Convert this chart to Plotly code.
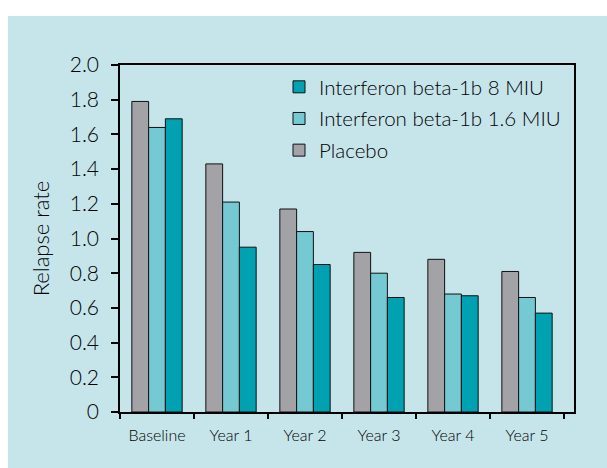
import plotly.graph_objects as go

# Relapse rates by study period
periods = ["Baseline", "Year 1", "Year 2", "Year 3", "Year 4", "Year 5"]
placebo = [1.79, 1.43, 1.17, 0.92, 0.88, 0.81]
ifn_1_6 = [1.64, 1.21, 1.04, 0.80, 0.68, 0.66]
ifn_8 = [1.69, 0.95, 0.85, 0.66, 0.67, 0.57]
y_ticks = [0, 0.2, 0.4, 0.6, 0.8, 1.0, 1.2, 1.4, 1.6, 1.8, 2.0]
y_tick_text = ["0", "0.2", "0.4", "0.6", "0.8", "1.0", "1.2", "1.4", "1.6", "1.8", "2.0"]

W, H = 607, 468
ML, MR, MT, MB = 120, 33, 65, 56
PW, PH = W - ML - MR, H - MT - MB

BG = "#c6e5ea"
FONT = "Lato"
WEIGHT = 300
TEXT = "#000000"

# (legend name, values, colour, legend rank)
series = [
    ("Placebo", placebo, "#a2a2a7", 3),
    ("Interferon beta-1b 1.6 MIU", ifn_1_6, "#74c9d3", 2),
    ("Interferon beta-1b 8 MIU", ifn_8, "#00a2b1", 1),
]

fig = go.Figure()
for name, vals, col, rank in series:
    fig.add_trace(go.Bar(
        x=periods, y=vals, name=name, legendgroup=name, legendrank=rank,
        marker=dict(color=col, line=dict(color="#111111", width=1)),
    ))


def px_to_paper_x(px):
    return (px - ML) / PW


def px_to_paper_y(py):
    return (H - MB - py) / PH


# light blue panel with a white margin on the top and left
fig.add_shape(type="rect", xref="paper", yref="paper", layer="below",
              x0=px_to_paper_x(8), x1=px_to_paper_x(W + 10),
              y0=px_to_paper_y(H + 10), y1=px_to_paper_y(16),
              fillcolor=BG, line=dict(width=0))

fig.update_layout(
    width=W, height=H,
    margin=dict(l=ML, r=MR, t=MT, b=MB),
    paper_bgcolor="white",
    plot_bgcolor="rgba(0,0,0,0)",
    font=dict(family=FONT, color=TEXT, weight=WEIGHT),
    barmode="group",
    bargap=0.32,
    bargroupgap=0,
    showlegend=True,
    legend=dict(
        x=px_to_paper_x(279), y=px_to_paper_y(67), xanchor="left", yanchor="top",
        bgcolor="rgba(0,0,0,0)", traceorder="grouped", tracegroupgap=2,
        font=dict(family=FONT, size=20.5, color=TEXT, weight=WEIGHT),
    ),
    xaxis=dict(
        type="category", range=[-0.5, 5.635],
        showline=True, linecolor="black", linewidth=1.5, mirror=True,
        ticks="outside", tickson="boundaries", ticklen=5, tickcolor="black", tickwidth=1.5,
        ticklabelstandoff=8,
        tickfont=dict(family=FONT, size=16, color=TEXT, weight=WEIGHT),
        showgrid=False, zeroline=False,
    ),
    yaxis=dict(
        range=[0, 2.0], tickvals=y_ticks, ticktext=y_tick_text,
        showline=True, linecolor="black", linewidth=1.5, mirror=True,
        ticks="outside", ticklen=7, tickcolor="black", tickwidth=1.5,
        ticklabelstandoff=8,
        tickfont=dict(family=FONT, size=21, color=TEXT, weight=WEIGHT),
        showgrid=False, zeroline=False,
        title=dict(text="Relapse rate",
                   font=dict(family=FONT, size=22, color=TEXT, weight=WEIGHT),
                   standoff=14),
    ),
)

fig.write_html("out.html")
